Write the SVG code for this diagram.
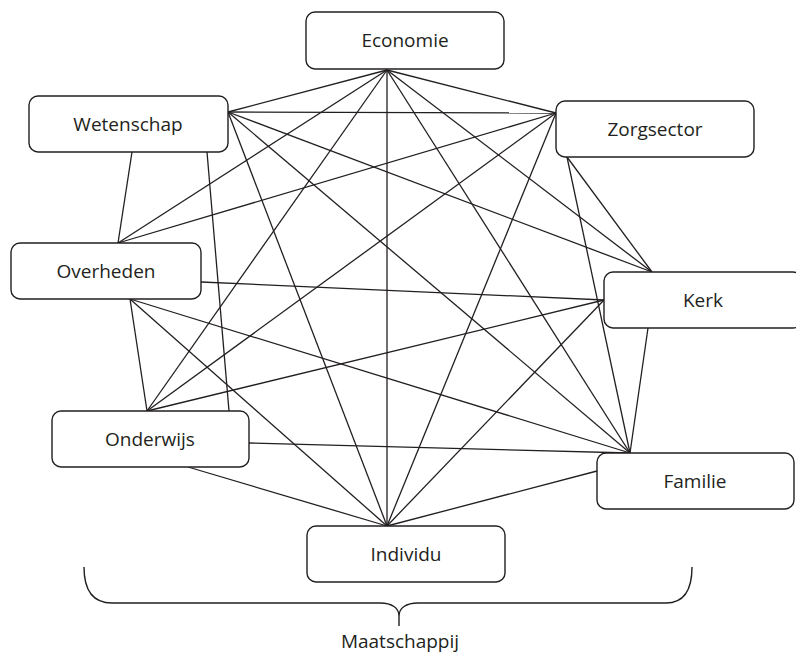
<svg xmlns="http://www.w3.org/2000/svg" width="796" height="656" viewBox="0 0 796 656">
<style>
.box{fill:#fff;stroke:#231f20;stroke-width:1.4}
.lbl{font-family:"Open Sans","Noto Sans",sans-serif;font-size:19px;fill:#231f20;text-anchor:middle}
.edge{stroke:#231f20;stroke-width:1.3;fill:none}
.brace{stroke:#231f20;stroke-width:1.4;fill:none}
</style>
<rect width="796" height="656" fill="#fff"/>
<g id="connectors">
<!-- Economie -->
<line class="edge" x1="387" y1="70" x2="228" y2="112"/>
<line class="edge" x1="387" y1="70" x2="556" y2="113"/>
<line class="edge" x1="387" y1="70" x2="118" y2="243"/>
<line class="edge" x1="387" y1="70" x2="652" y2="272"/>
<line class="edge" x1="387" y1="70" x2="147" y2="411"/>
<line class="edge" x1="387" y1="70" x2="630" y2="453"/>
<line class="edge" x1="387" y1="70" x2="387" y2="526"/>
<!-- Wetenschap -->
<line class="edge" x1="228" y1="112" x2="556" y2="113"/>
<line class="edge" x1="228" y1="112" x2="652" y2="272"/>
<line class="edge" x1="228" y1="112" x2="630" y2="453"/>
<line class="edge" x1="228" y1="112" x2="387" y2="526"/>
<line class="edge" x1="132" y1="152" x2="118" y2="243"/>
<line class="edge" x1="207" y1="152" x2="229" y2="411"/>
<!-- Zorgsector -->
<line class="edge" x1="556" y1="113" x2="118" y2="243"/>
<line class="edge" x1="556" y1="113" x2="147" y2="411"/>
<line class="edge" x1="556" y1="113" x2="387" y2="526"/>
<line class="edge" x1="567" y1="157" x2="652" y2="272"/>
<line class="edge" x1="567" y1="157" x2="630" y2="453"/>
<!-- Overheden -->
<line class="edge" x1="201" y1="282" x2="604" y2="300"/>
<line class="edge" x1="130" y1="299" x2="147" y2="411"/>
<line class="edge" x1="130" y1="299" x2="387" y2="526"/>
<line class="edge" x1="130" y1="299" x2="630" y2="453"/>
<!-- Kerk -->
<line class="edge" x1="604" y1="300" x2="147" y2="411"/>
<line class="edge" x1="604" y1="300" x2="387" y2="526"/>
<line class="edge" x1="648" y1="328" x2="630" y2="453"/>
<!-- Onderwijs -->
<line class="edge" x1="249" y1="443" x2="630" y2="453"/>
<line class="edge" x1="188" y1="467" x2="387" y2="526"/>
<!-- Familie -->
<line class="edge" x1="597" y1="471" x2="387" y2="526"/>
</g>
<g id="economie"><rect class="box" x="306" y="12" width="198" height="57" rx="9"/><text class="lbl" x="405" y="47">Economie</text></g>
<g id="wetenschap"><rect class="box" x="29" y="96" width="199" height="56" rx="9"/><text class="lbl" x="128" y="130.5">Wetenschap</text></g>
<g id="zorgsector"><rect class="box" x="556" y="101" width="198" height="56" rx="9"/><text class="lbl" x="655" y="135.5">Zorgsector</text></g>
<g id="overheden"><rect class="box" x="11" y="243" width="190" height="56" rx="9"/><text class="lbl" x="106" y="277.5">Overheden</text></g>
<g id="kerk"><rect class="box" x="604" y="272" width="198" height="56" rx="9"/><text class="lbl" x="703" y="307">Kerk</text></g>
<g id="onderwijs"><rect class="box" x="52" y="411" width="197" height="56" rx="9"/><text class="lbl" x="150" y="446">Onderwijs</text></g>
<g id="familie"><rect class="box" x="597" y="453" width="197" height="56" rx="9"/><text class="lbl" x="695" y="488">Familie</text></g>
<g id="individu"><rect class="box" x="307" y="526" width="198" height="56" rx="9"/><text class="lbl" x="406" y="561">Individu</text></g>
<g id="maatschappij">
<path class="brace" d="M84,567 C84,591 94,603 112,603 L380,603 C392,603 399,608 399,616 L399,626 M399,616 C399,608 406,603 418,603 L666,603 C684,603 692,591 692,567"/>
<text class="lbl" x="400" y="648">Maatschappij</text>
</g>
</svg>
